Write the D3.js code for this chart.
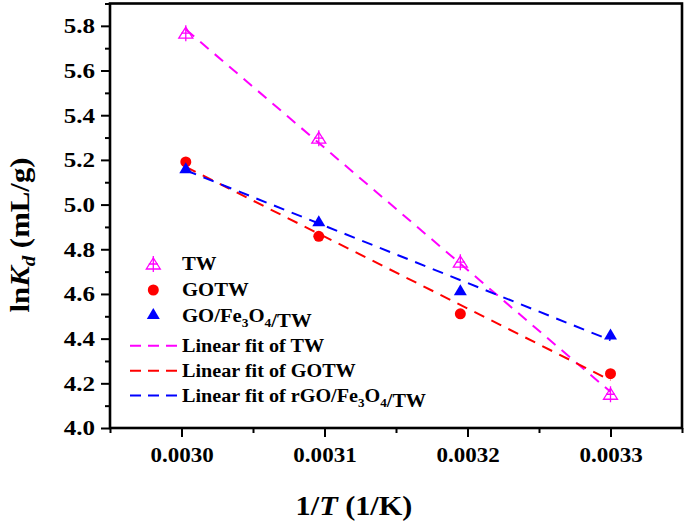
<!DOCTYPE html>
<html>
<head>
<meta charset="utf-8">
<script src="https://cdn.jsdelivr.net/npm/d3@7"></script>
<style>
  html, body { margin: 0; padding: 0; background: #fff; }
  svg { display: block; }
  text { font-family: "Liberation Serif", "Times New Roman", serif; font-weight: bold; fill: #000; }
</style>
</head>
<body>
<svg id="chart" width="685" height="525"></svg>
<script>
// ---- data ----
const invT = [0.003003, 0.003096, 0.003195, 0.003300];
const twValues = [5.767, 5.297, 4.742, 4.151];
const gotwValues = [5.191, 4.858, 4.511, 4.243];
const goFeValues = [5.163, 4.925, 4.617, 4.419];
const xMajorTicks = [0.0030, 0.0031, 0.0032, 0.0033];
const xMinorTicks = [0.00295, 0.00305, 0.00315, 0.00325, 0.00335];
const yMajorTicks = [4.0, 4.2, 4.4, 4.6, 4.8, 5.0, 5.2, 5.4, 5.6, 5.8];
const yMinorTicks = [4.1, 4.3, 4.5, 4.7, 4.9, 5.1, 5.3, 5.5, 5.7, 5.9];
const seriesNames = ["TW", "GOTW", "GO/Fe3O4/TW"];
const fitNames = ["Linear fit of TW", "Linear fit of GOTW", "Linear fit of rGO/Fe3O4/TW"];
const colors = ["#ff00ff", "#ff0000", "#0000ff"];

const svg = d3.select("#chart");
const L = 110, R = 682, T = 3.5, B = 428;
const x = d3.scaleLinear().domain([0.00295, 0.00335]).range([L, R]);
const y = d3.scaleLinear().domain([4.0, 5.9]).range([B, T]);

function stretch(sel, f) {
  sel.each(function () {
    const w = this.getComputedTextLength();
    this.setAttribute("textLength", w * f);
    this.setAttribute("lengthAdjust", "spacingAndGlyphs");
  });
}

// ---- axes ----
const gx = svg.append("g").attr("transform", `translate(0,${B})`)
  .call(d3.axisBottom(x).tickValues(xMajorTicks).tickSize(9).tickFormat(d3.format(".4f")));
svg.append("g").attr("transform", `translate(0,${B})`)
  .call(d3.axisBottom(x).tickValues(xMinorTicks).tickSize(5).tickFormat(""));
const gy = svg.append("g").attr("transform", `translate(${L},0)`)
  .call(d3.axisLeft(y).tickValues(yMajorTicks).tickSize(9).tickFormat(d3.format(".1f")));
svg.append("g").attr("transform", `translate(${L},0)`)
  .call(d3.axisLeft(y).tickValues(yMinorTicks).tickSize(5).tickFormat(""));
svg.selectAll(".domain").remove();
svg.selectAll(".tick line").attr("stroke", "#000").attr("stroke-width", 2);
gx.selectAll(".tick text").attr("y", 33.5).attr("dy", 0)
  .style("font-size", "20px").style("font-family", "Liberation Serif").style("font-weight", "bold").attr("fill", "#000");
gy.selectAll(".tick text").attr("x", -15).attr("dy", "0.34em")
  .style("font-size", "20px").style("font-family", "Liberation Serif").style("font-weight", "bold").attr("fill", "#000");
stretch(gx.selectAll(".tick text"), 1.15);
stretch(gy.selectAll(".tick text"), 1.25);

// frame
svg.append("rect").attr("x", L).attr("y", T).attr("width", R - L).attr("height", B - T)
  .attr("fill", "none").attr("stroke", "#000").attr("stroke-width", 2.6);

// ---- fits ----
function fit(xs, ys) {
  const mx = d3.mean(xs), my = d3.mean(ys);
  let sxy = 0, sxx = 0;
  xs.forEach((v, i) => { sxy += (v - mx) * (ys[i] - my); sxx += (v - mx) * (v - mx); });
  const b = sxy / sxx, a = my - b * mx;
  return v => a + b * v;
}
const allSeries = [twValues, gotwValues, goFeValues];
const xEnds = [invT[0], invT[invT.length - 1]];
const line = d3.line().x(d => x(d[0])).y(d => y(d[1]));
allSeries.forEach((vals, i) => {
  const f = fit(invT, vals);
  svg.append("path").datum(xEnds.map(v => [v, f(v)]))
    .attr("d", line).attr("fill", "none").attr("stroke", colors[i])
    .attr("stroke-width", 2).attr("stroke-dasharray", "11,8");
});

// ---- markers ----
function drawTW(g, cx, cy) {
  const c = colors[0];
  g.append("path").attr("d", `M${cx},${cy - 6}L${cx - 7},${cy + 5}L${cx + 7},${cy + 5}Z`)
    .attr("fill", "none").attr("stroke", c).attr("stroke-width", 1.3);
  g.append("path").attr("d", `M${cx},${cy - 8}V${cy + 8}M${cx - 4.5},${cy}H${cx + 4.5}`)
    .attr("fill", "none").attr("stroke", c).attr("stroke-width", 1.3);
}
function drawCircle(g, cx, cy) {
  g.append("circle").attr("cx", cx).attr("cy", cy).attr("r", 5.5).attr("fill", colors[1]);
}
function drawTri(g, cx, cy) {
  g.append("path").attr("d", `M${cx},${cy - 6}L${cx - 6.5},${cy + 5}L${cx + 6.5},${cy + 5}Z`).attr("fill", colors[2]);
}
const drawers = [drawTW, drawCircle, drawTri];
const mg = svg.append("g");
// draw order: TW, GOTW, GO/Fe3O4/TW
allSeries.forEach((vals, i) => {
  vals.forEach((v, j) => drawers[i](mg, x(invT[j]), y(v)));
});

// ---- legend ----
const lg = svg.append("g");
const markerRows = [264, 290, 314];
const markerBase = [270, 296, 321.5];
function addLabel(g, xx, yy, name, size) {
  const t = g.append("text").attr("x", xx).attr("y", yy).style("font-size", size + "px");
  const parts = name.split(/(Fe3O4)/);
  parts.forEach(p => {
    if (p === "Fe3O4") {
      t.append("tspan").text("Fe");
      t.append("tspan").attr("dy", 5).style("font-size", (size * 0.65) + "px").text("3");
      t.append("tspan").attr("dy", -5).text("O");
      t.append("tspan").attr("dy", 5).style("font-size", (size * 0.65) + "px").text("4");
      t.append("tspan").attr("dy", -5).text("");
    } else if (p.length) {
      t.append("tspan").text(p);
    }
  });
  return t;
}
seriesNames.forEach((n, i) => {
  drawers[i](lg, 153.3, markerRows[i]);
  stretch(addLabel(lg, 182, markerBase[i], n, 18), 1.15);
});
const lineRows = [345.7, 370.7, 395.5];
const lineBase = [351.7, 376.7, 401.7];
fitNames.forEach((n, i) => {
  lg.append("line").attr("x1", 130).attr("x2", 177).attr("y1", lineRows[i]).attr("y2", lineRows[i])
    .attr("stroke", colors[i]).attr("stroke-width", 2).attr("stroke-dasharray", "11,7");
  stretch(addLabel(lg, 182, lineBase[i], n, 18), 1.12);
});

// ---- axis titles ----
const xt = svg.append("text").attr("x", 354).attr("y", 515).attr("text-anchor", "middle").style("font-size", "28px");
xt.append("tspan").text("1/");
xt.append("tspan").style("font-style", "italic").text("T");
xt.append("tspan").text(" (1/K)");
stretch(xt, 1.08);

const yt = svg.append("text").attr("transform", "translate(29,235) rotate(-90)").attr("text-anchor", "middle").style("font-size", "28px");
yt.append("tspan").text("ln");
yt.append("tspan").style("font-style", "italic").text("K");
yt.append("tspan").style("font-style", "italic").style("font-size", "19px").attr("dy", 6).text("d");
yt.append("tspan").attr("dy", -6).text(" (mL/g)");
stretch(yt, 1.1);
</script>
</body>
</html>
